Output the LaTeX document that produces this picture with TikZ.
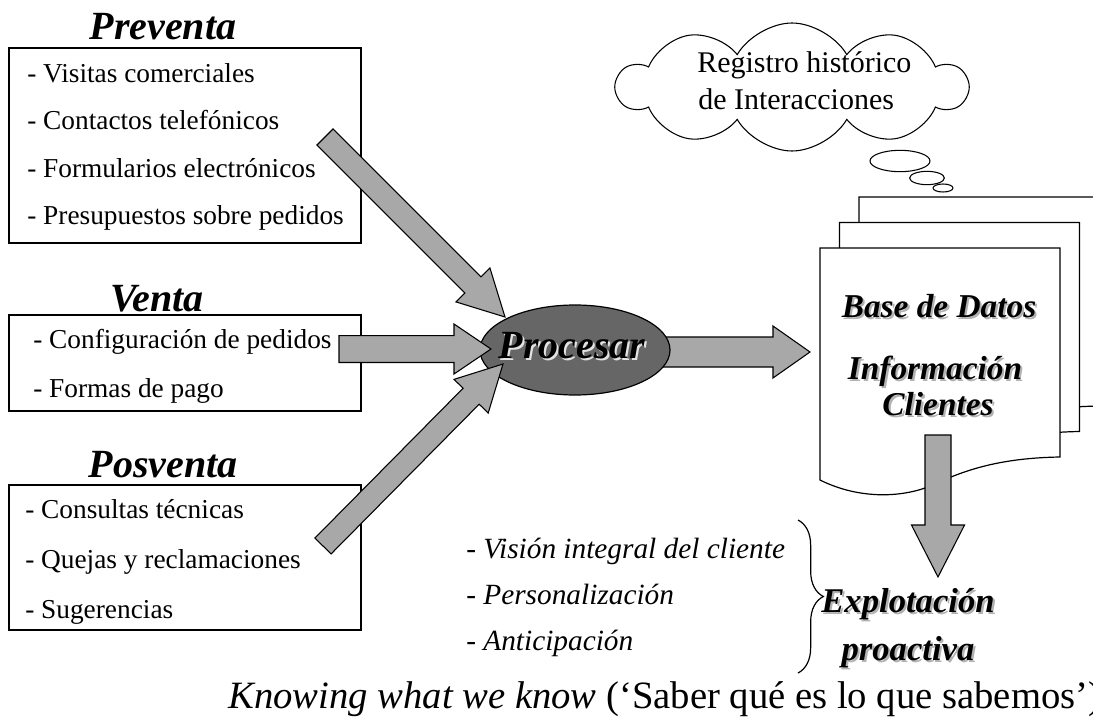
\documentclass[tikz,border=0pt]{standalone}
\usepackage{fontspec}
\setmainfont{Liberation Serif}
\usetikzlibrary{calc,shapes.symbols,shapes.geometric,decorations.pathreplacing}

\definecolor{arrowgray}{gray}{0.66}
\definecolor{ovalgray}{gray}{0.40}

% fat block arrow: #1 head-base coordinate name, #2 tail, #3 tip,
% #4 half shaft width, #5 half head width, #6 head length
\newcommand\fatarrow[6]{%
  \coordinate (#1) at ($(#3)!#6!(#2)$);
  \draw[fatarrowstyle]
    ($(#2)!#4!90:(#3)$) -- ($(#1)!#4!-90:(#2)$) -- ($(#1)!#5!-90:(#2)$) --
    (#3) -- ($(#1)!#5!90:(#2)$) -- ($(#1)!#4!90:(#2)$) --
    ($(#2)!#4!-90:(#3)$) -- cycle;
}
% text with a soft offset shadow behind it
\newcommand\shadowed[2]{%
  \makebox[0pt][l]{\kern1.6pt\raisebox{-1.6pt}{\textcolor{#1}{#2}}}#2}
% one sheet of the document stack
\newcommand\sheetpath{(820,248) -- (1060,248) -- (1060,457)
  .. controls (1000,458) and (965,470) .. (935,484)
  .. controls (905,498) and (860,500) .. (820,480) -- cycle}

\begin{document}
\begin{tikzpicture}[x=0.75pt, y=-0.75pt,
  listbox/.style={draw, line width=1pt, inner sep=0, minimum width=264pt},
  item/.style={anchor=base west, inner sep=0, font=\fontsize{20.5}{24}\selectfont},
  grouptitle/.style={anchor=base, inner sep=0,
    font=\bfseries\itshape\fontsize{30}{34}\selectfont},
  fatarrowstyle/.style={draw, line width=0.8pt, fill=arrowgray, line join=miter},
  sheet/.style={draw, line width=0.9pt, fill=white},
  dbtext/.style={anchor=base, inner sep=0, font=\bfseries\itshape\fontsize{25}{30}\selectfont},
  goaltext/.style={anchor=base, inner sep=0, font=\bfseries\itshape\fontsize{26}{30}\selectfont},
  benefit/.style={anchor=base west, inner sep=0, font=\itshape\fontsize{22}{26}\selectfont},
  cloudtext/.style={anchor=base west, inner sep=0, font=\fontsize{22.5}{26}\selectfont},
  bubble/.style={ellipse, draw, line width=0.8pt, fill=white, inner sep=0},
]
\useasboundingbox (0,0) rectangle (1093,717);
\clip (0,0) rectangle (1093,717);

% ---- left column: channel boxes ----
\node[grouptitle] (pretitle) at (163,40) {Preventa};
\node[listbox, minimum height=146pt] (prebox) at (185,145.5) {};
\node[item] (pre1) at (27,83)  {- Visitas comerciales};
\node[item] (pre2) at (27,130) {- Contactos telefónicos};
\node[item] (pre3) at (27,177) {- Formularios electrónicos};
\node[item] (pre4) at (27,224) {- Presupuestos sobre pedidos};

\node[grouptitle] (ventitle) at (157,311) {Venta};
\node[listbox, minimum height=72pt] (venbox) at (185,363) {};
\node[item] (ven1) at (33,348) {- Configuración de pedidos};
\node[item] (ven2) at (33,397) {- Formas de pago};

\node[grouptitle] (postitle) at (163,477) {Posventa};
\node[listbox, minimum height=108.75pt] (posbox) at (185,557.5) {};
\node[item] (pos1) at (25,518) {- Consultas técnicas};
\node[item] (pos2) at (25,568) {- Quejas y reclamaciones};
\node[item] (pos3) at (25,618) {- Sugerencias};

% ---- processing node and its output arrow ----
\coordinate (outtip) at (810,352);
\coordinate (outtail) at (575,352);
\fatarrow{outbase}{outtail}{outtip}{11.25pt}{19.5pt}{27.75pt}

\node[ellipse, draw, line width=0.9pt, fill=ovalgray,
      minimum width=142.5pt, minimum height=67.5pt] (proc) at (575,350) {};
\node[anchor=base, inner sep=0,
      font=\bfseries\itshape\fontsize{30}{34}\selectfont] (proctext) at (572,358)
      {\shadowed{gray!22}{Procesar}};

% ---- incoming arrows ----
\coordinate (pretail) at (325,137);
\coordinate (pretip)  at (505,317);
\fatarrow{prebase}{pretail}{pretip}{8.5pt}{18pt}{34pt}

\coordinate (ventail) at (339,349);
\coordinate (ventip)  at (491,349);
\fatarrow{venbase}{ventail}{ventip}{10.1pt}{18.75pt}{27.75pt}

\coordinate (postail) at (323,546);
\coordinate (postip)  at (503,364);
\fatarrow{posbase}{postail}{postip}{8.5pt}{18pt}{34pt}

% ---- document stack ----
\begin{scope}[shift={(39,-51)}]
  \draw[sheet] \sheetpath;
\end{scope}
\begin{scope}[shift={(19.5,-25.5)}]
  \draw[sheet] \sheetpath;
\end{scope}
\draw[sheet] \sheetpath;

\node[dbtext] (db1) at (939,317) {\shadowed{gray!60}{Base de Datos}};
\node[dbtext] (db2) at (935,379) {\shadowed{gray!60}{Información}};
\node[dbtext] (db3) at (938,415) {\shadowed{gray!60}{Clientes}};

% ---- thought cloud ----
\node[cloud, draw, line width=0.8pt, fill=white, cloud puffs=10, cloud puff arc=120,
      aspect=2.9, minimum width=262pt, minimum height=96pt, inner sep=0] (cloud) at (792,87) {};
\node[cloudtext] (cl1) at (697,73)  {Registro histórico};
\node[cloudtext] (cl2) at (698,110) {de Interacciones};
\node[bubble, minimum width=45pt, minimum height=16pt] (bub1) at (900,161) {};
\node[bubble, minimum width=26pt, minimum height=10pt] (bub2) at (927,178) {};
\node[bubble, minimum width=15pt, minimum height=6pt]  (bub3) at (943,188) {};

% ---- exploitation ----
\coordinate (downtail) at (938,435);
\coordinate (downtip)  at (938,577);
\fatarrow{downbase}{downtail}{downtip}{9.75pt}{19.9pt}{39pt}

\node[benefit] (ben1) at (466,558) {- Visión integral del cliente};
\node[benefit] (ben2) at (466,604) {- Personalización};
\node[benefit] (ben3) at (466,650) {- Anticipación};

\coordinate (brtop) at (798,520);
\coordinate (brbot) at (798,673);
\draw[decorate, decoration={brace, amplitude=19pt}, line width=0.9pt] (brtop) -- (brbot);

\node[goaltext] (goal1) at (908,612) {\shadowed{gray!60}{Explotación}};
\node[goaltext] (goal2) at (908,660) {\shadowed{gray!60}{proactiva}};

\node[anchor=base west, inner sep=0, font=\fontsize{29}{32}\selectfont] (motto) at (228,708)
  {\itshape Knowing what we know\upshape{} (‘Saber qué es lo que sabemos’)};
\end{tikzpicture}
\end{document}
